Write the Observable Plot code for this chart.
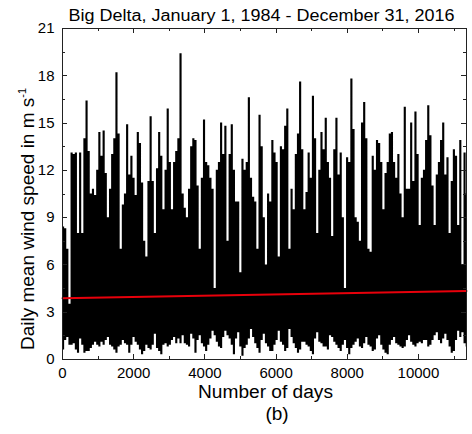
<!DOCTYPE html>
<html><head><meta charset="utf-8">
<script src="https://cdn.jsdelivr.net/npm/d3@7"></script>
<script src="https://cdn.jsdelivr.net/npm/@observablehq/plot@0.6"></script>
<style>body{margin:0;background:#fff}</style>
</head><body><div id="chart"></div>
<script>
// Each value covers one 60-day block of the daily record: highest and lowest daily mean (m/s).
const binDays = 60;
const hi = [
  8.4, 8.3, 7.0, 3.5, 13.1, 13.0, 13.1, 8.0, 13.1, 8.0,
  14.0, 16.4, 13.2, 10.5, 10.8, 10.4, 12.0, 14.4, 12.9, 14.5,
  11.8, 9.0, 10.8, 13.0, 14.0, 18.2, 14.3, 7.0, 9.8, 10.5,
  14.9, 11.7, 12.9, 11.5, 10.4, 14.4, 13.7, 11.2, 7.5, 6.5,
  11.3, 15.4, 11.3, 8.0, 12.1, 14.4, 12.9, 9.5,
  12.0, 15.9, 12.5, 9.5, 12.5, 13.2, 14.0, 19.4, 10.5, 9.6,
  9.0, 10.8, 13.5, 14.0, 13.9, 11.0, 7.0, 11.5, 15.2, 12.5,
  12.3, 11.5, 10.8, 4.5, 12.0, 12.5, 15.0, 13.0, 14.8, 7.5,
  13.0, 14.9, 12.0, 10.0, 10.0, 5.5, 12.7, 12.0, 12.5, 16.6,
  11.5, 10.3, 10.0, 7.0, 15.5, 13.5, 9.0, 6.0, 10.5, 10.0,
  13.9, 13.1, 12.5, 6.5, 13.5, 13.3, 14.8, 15.9, 7.0, 10.8,
  9.5, 13.0, 14.3, 17.6, 13.3, 9.5, 10.6, 13.1, 11.5, 16.7,
  14.0, 8.0, 12.0, 14.4, 13.3, 15.3, 12.5, 11.5, 7.8, 13.3,
  15.3, 11.7, 13.1, 9.0, 4.5, 12.8, 12.5, 17.8, 14.6, 9.0,
  8.7, 7.5, 15.0, 16.3, 14.0, 7.0, 6.8, 12.9, 12.0,
  13.9, 13.7, 12.5, 9.5, 11.8, 12.5, 14.3, 14.4, 12.5, 11.5,
  13.0, 10.5, 9.0, 16.0, 10.8, 10.8, 15.0, 11.3, 15.7, 13.0,
  8.5, 11.5, 12.0, 13.9, 16.1, 14.2, 11.0, 8.5, 11.7, 12.5,
  13.9, 15.0, 11.7, 12.8, 8.0, 11.3, 13.3, 12.9, 8.5, 13.9,
  6.0, 13.1, 10.5
];
const lo = [
  0.6, 1.2, 1.4, 0.9, 0.9, 1.0, 0.6, 0.4, 1.3, 0.9,
  0.4, 0.5, 0.5, 0.7, 0.9, 1.1, 0.9, 0.8, 1.1, 0.9,
  1.2, 1.4, 0.9, 0.8, 0.6, 0.4, 0.8, 0.9, 1.2, 1.0,
  0.9, 0.4, 0.9, 1.4, 1.1, 0.9, 0.6, 0.3, 0.5, 0.9,
  0.7, 0.6, 0.9, 1.6, 0.7, 0.5, 0.3, 0.9, 1.0, 0.8,
  0.9, 1.2, 1.4, 1.0, 1.3, 1.0, 1.5, 1.0, 0.9, 0.8,
  1.6, 1.3, 0.4,
  1.2, 1.5, 1.0, 0.8, 0.5, 0.9, 1.3, 1.8, 1.5, 1.1,
  0.8, 0.7, 1.4, 1.8, 1.5, 1.3, 0.9, 0.3, 1.3, 1.7,
  0.8, 0.2, 0.7, 0.9, 1.3, 1.9, 1.4, 1.0, 0.7, 0.4,
  1.2, 1.6, 1.0, 0.8, 0.5, 0.5, 0.9, 1.2, 1.8, 1.1,
  0.9, 0.5, 0.7, 1.9, 1.4, 1.0, 0.7, 0.4, 0.6, 1.1,
  1.1, 0.9, 0.8, 0.5, 0.3, 1.3, 1.7, 1.1, 1.0, 0.8,
  0.8, 0.6,
  1.5, 1.4, 1.1, 0.9, 0.7, 0.5, 0.9, 1.2, 0.7, 0.3,
  0.7, 0.9, 1.1, 1.3, 0.8, 0.7, 1.0, 1.4, 0.9, 0.8,
  0.5, 0.6, 1.3, 1.5, 0.9, 0.6, 0.4, 0.3, 0.9, 1.2,
  1.4, 1.0, 0.9, 0.8, 0.7, 0.8, 1.2, 1.5, 1.1, 0.9,
  0.8, 1.0, 1.1, 1.0, 1.2, 1.2, 0.8, 0.9, 1.2, 1.5,
  1.7, 1.2, 1.0, 1.3, 1.6, 1.2, 0.8, 0.4, 0.5, 1.2,
  1.8, 1.4, 1.7, 1.0, 0.8
];
const trendDays = [0, 11350];
const trendSpeed = [3.88, 4.34];
const xTicks = [0, 2000, 4000, 6000, 8000, 10000];
const xMinor = [1000, 3000, 5000, 7000, 9000, 11000];
const yTicks = [0, 3, 6, 9, 12, 15, 18, 21];
const yMinor = [1.5, 4.5, 7.5, 10.5, 13.5, 16.5, 19.5];
const titleText = "Big Delta, January 1, 1984 - December 31, 2016";
const xLabelText = "Number of days";
const yLabelText = "Daily mean wind speed in m s";
const yLabelSup = "-1";
const panelText = "(b)";

const series = hi.map((h, i) => ({day: i * binDays, hi: h, lo: lo[i]}));
series.push({day: hi.length * binDays, hi: hi[hi.length - 1], lo: lo[lo.length - 1]});
const trend = trendDays.map((d, i) => ({day: d, v: trendSpeed[i]}));

const W = 472, H = 434, mL = 62, mR = 6, mT = 28, mB = 75;
const font = "'Liberation Sans', Arial, Helvetica, sans-serif";

const plot = Plot.plot({
  width: W, height: H,
  marginLeft: mL, marginRight: mR, marginTop: mT, marginBottom: mB,
  style: {fontFamily: font, fontSize: "15px", color: "black", background: "white"},
  x: {domain: [0, 11350]},
  y: {domain: [0, 21]},
  marks: [
    Plot.areaY(series, {x: "day", y1: "lo", y2: "hi", fill: "black", curve: "step-after", clip: true}),
    Plot.line(trend, {x: "day", y: "v", stroke: "#e8000b", strokeWidth: 2}),
    Plot.frame({stroke: "#222"}),
    Plot.axisX({ticks: xTicks, tickSize: 0, tickPadding: 8, tickFormat: d3.format("d"), label: null}),
    Plot.axisY({ticks: yTicks, tickSize: 0, tickPadding: 8, label: null})
  ]
});

const sx = plot.scale("x"), sy = plot.scale("y");
const svg = d3.select(plot);
const fLeft = mL, fRight = W - mR, fTop = mT, fBottom = H - mB;
const tg = svg.append("g").attr("stroke", "#222").attr("stroke-width", 1).attr("fill", "none");
function xt(v, len) {
  const x = Math.round(sx.apply(v)) + 0.5;
  tg.append("line").attr("x1", x).attr("x2", x).attr("y1", fBottom).attr("y2", fBottom - len);
  tg.append("line").attr("x1", x).attr("x2", x).attr("y1", fTop).attr("y2", fTop + len);
}
function yt(v, len) {
  const y = Math.round(sy.apply(v)) + 0.5;
  tg.append("line").attr("x1", fLeft).attr("x2", fLeft + len).attr("y1", y).attr("y2", y);
  tg.append("line").attr("x1", fRight).attr("x2", fRight - len).attr("y1", y).attr("y2", y);
}
xTicks.forEach(v => xt(v, 5)); xMinor.forEach(v => xt(v, 3));
yTicks.forEach(v => yt(v, 5)); yMinor.forEach(v => yt(v, 3));

const txt = svg.append("g").attr("font-family", font).attr("fill", "black");
txt.append("text").attr("x", 261.5).attr("y", 20.5).attr("text-anchor", "middle")
  .attr("font-size", 16).attr("textLength", 386).attr("lengthAdjust", "spacingAndGlyphs").text(titleText);
txt.append("text").attr("x", 265.5).attr("y", 398).attr("text-anchor", "middle")
  .attr("font-size", 18).attr("textLength", 135).attr("lengthAdjust", "spacingAndGlyphs").text(xLabelText);
txt.append("text").attr("x", 277).attr("y", 420).attr("text-anchor", "middle")
  .attr("font-size", 19).text(panelText);
const yl = txt.append("text").attr("transform", "translate(34,219) rotate(-90)")
  .attr("text-anchor", "middle").attr("font-size", 19);
yl.append("tspan").text(yLabelText);
yl.append("tspan").attr("font-size", 11).attr("dy", -8).text(yLabelSup);

document.getElementById("chart").appendChild(plot);
</script>
</body></html>
